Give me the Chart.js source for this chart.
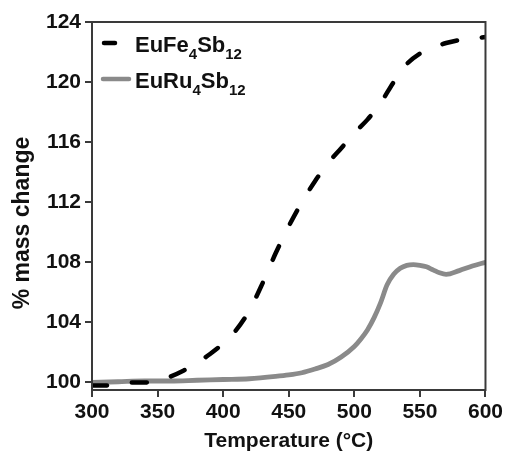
<!DOCTYPE html>
<html>
<head>
<meta charset="utf-8">
<script src="https://cdn.jsdelivr.net/npm/chart.js@4"></script>
<style>
  body { margin: 0; background: #fff; }
  #wrap { width: 506px; height: 454px; }
</style>
</head>
<body>
<div id="wrap"><canvas id="tga" width="506" height="454"></canvas></div>
<script>
// temperature (°C) and % mass change
const feTemps = [300, 310, 320, 330, 340, 350, 360, 370, 380, 390, 400, 410, 420, 430, 440, 450,
                 460, 470, 480, 490, 500, 510, 520, 530, 540, 550, 560, 570, 580, 590, 600];
const feMass = [99.8, 99.8, 99.9, 100.0, 100.0, 100.1, 100.4, 100.8, 101.3, 101.9, 102.6, 103.5,
                104.8, 106.6, 108.6, 110.4, 112.0, 113.4, 114.6, 115.6, 116.6, 117.5, 118.6,
                120.0, 121.2, 121.9, 122.3, 122.6, 122.8, 122.9, 123.0];

const ruTemps = [300, 320, 340, 360, 380, 400, 420, 440, 450, 460, 470, 480, 490, 500, 505, 510,
                 515, 520, 525, 530, 535, 540, 545, 550, 555, 560, 565, 570, 580, 590, 600];
const ruMass = [100.0, 100.05, 100.1, 100.1, 100.15, 100.2, 100.25, 100.4, 100.5, 100.65, 100.9,
                101.2, 101.7, 102.4, 102.9, 103.5, 104.3, 105.3, 106.5, 107.2, 107.6, 107.8,
                107.85, 107.8, 107.7, 107.5, 107.3, 107.2, 107.45, 107.75, 108.0];

const xTicks = [300, 350, 400, 450, 500, 550, 600];
const yTicks = [100, 104, 108, 112, 116, 120, 124];
const yTitle = '% mass change';

const legendItems = [
    {base: 'EuFe', sub1: '4', mid: 'Sb', sub2: '12', color: '#000', dash: true},
    {base: 'EuRu', sub1: '4', mid: 'Sb', sub2: '12', color: '#8a8a8a', dash: false}
];

const toPoints = (xs, ys) => xs.map((x, i) => ({x: x, y: ys[i]}));
const FONT = '"Liberation Sans", Arial, sans-serif';

const framePlugin = {
    id: 'frame',
    afterDraw(chart) {
        const {ctx, chartArea: a} = chart;
        ctx.save();
        ctx.strokeStyle = '#3a3a3a';
        ctx.lineWidth = 2;
        ctx.strokeRect(a.left, a.top, a.right - a.left, a.bottom - a.top);

        // y title, drawn by hand so it can sit a bit low like the original
        ctx.save();
        ctx.translate(23, 223);
        ctx.rotate(-Math.PI / 2);
        ctx.fillStyle = '#111';
        ctx.font = 'bold 23px ' + FONT;
        ctx.textAlign = 'center';
        ctx.textBaseline = 'middle';
        ctx.fillText(yTitle, 0, 0);
        ctx.restore();

        // legend with subscripts
        let y = a.top + 21;
        for (const item of legendItems) {
            ctx.strokeStyle = item.color;
            ctx.lineWidth = 4.5;
            ctx.lineCap = 'round';
            ctx.beginPath();
            if (item.dash) {
                ctx.moveTo(a.left + 12, y);
                ctx.lineTo(a.left + 23, y);
            } else {
                ctx.moveTo(a.left + 11, y);
                ctx.lineTo(a.left + 37, y);
            }
            ctx.stroke();

            let x = a.left + 43;
            const base = y + 9;
            ctx.fillStyle = '#111';
            ctx.textBaseline = 'alphabetic';
            ctx.font = 'bold 22px ' + FONT;
            ctx.fillText(item.base, x, base);
            x += ctx.measureText(item.base).width;
            ctx.font = 'bold 15px ' + FONT;
            ctx.fillText(item.sub1, x, base + 7);
            x += ctx.measureText(item.sub1).width;
            ctx.font = 'bold 22px ' + FONT;
            ctx.fillText(item.mid, x, base);
            x += ctx.measureText(item.mid).width;
            ctx.font = 'bold 15px ' + FONT;
            ctx.fillText(item.sub2, x, base + 7);
            y += 36;
        }
        ctx.restore();
    }
};

const tickFont = {family: FONT, size: 21, weight: 'bold'};

new Chart(document.getElementById('tga'), {
    type: 'line',
    data: {
        datasets: [
            {
                label: 'EuFe4Sb12',
                data: toPoints(feTemps, feMass),
                borderColor: '#000',
                borderWidth: 4.5,
                borderDash: [15, 25],
                borderCapStyle: 'round',
                pointRadius: 0,
                cubicInterpolationMode: 'monotone',
                fill: false
            },
            {
                label: 'EuRu4Sb12',
                data: toPoints(ruTemps, ruMass),
                borderColor: '#8a8a8a',
                borderWidth: 4.8,
                pointRadius: 0,
                cubicInterpolationMode: 'monotone',
                fill: false
            }
        ]
    },
    options: {
        responsive: false,
        animation: false,
        layout: {padding: {left: 0, right: 20, top: 22, bottom: 0}},
        plugins: {legend: {display: false}, tooltip: {enabled: false}},
        scales: {
            x: {
                type: 'linear',
                min: 300,
                max: 600,
                afterBuildTicks: s => { s.ticks = xTicks.map(v => ({value: v})); },
                afterFit: s => { s.height = 64; },
                grid: {display: true, drawOnChartArea: false, drawTicks: true, tickLength: 7, color: '#3a3a3a', lineWidth: 2},
                border: {color: '#3a3a3a', width: 2},
                ticks: {color: '#111', font: tickFont, padding: 3, maxRotation: 0},
                title: {
                    display: true,
                    text: 'Temperature (°C)',
                    color: '#111',
                    font: tickFont,
                    padding: {top: 0, bottom: 0}
                }
            },
            y: {
                min: 99.5,
                max: 124,
                afterBuildTicks: s => { s.ticks = yTicks.map(v => ({value: v})); },
                afterFit: s => { s.width = 92; },
                grid: {display: true, drawOnChartArea: false, drawTicks: true, tickLength: 7, color: '#3a3a3a', lineWidth: 2},
                border: {color: '#3a3a3a', width: 2},
                ticks: {color: '#111', font: tickFont, padding: 4}
            }
        }
    },
    plugins: [framePlugin]
});
</script>
</body>
</html>
